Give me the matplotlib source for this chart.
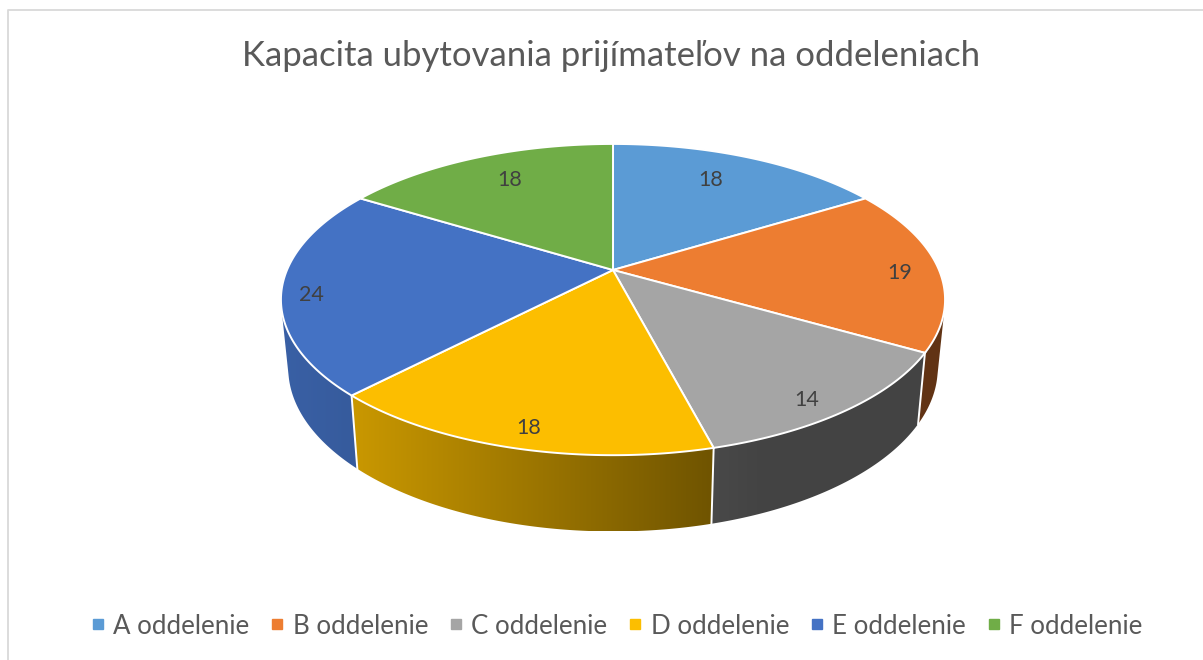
import numpy as np
import matplotlib
matplotlib.use("Agg")
import matplotlib.pyplot as plt
from matplotlib.patches import Polygon
from matplotlib.lines import Line2D

plt.rcParams['font.family'] = ['Lato', 'DejaVu Sans']

title = "Kapacita ubytovania prijímateľov na oddeleniach"
categories = ['A oddelenie', 'B oddelenie', 'C oddelenie', 'D oddelenie', 'E oddelenie', 'F oddelenie']
values = [18, 19, 14, 18, 24, 18]
colors = ['#5B9BD5', '#ED7D31', '#A5A5A5', '#FCBE00', '#4472C4', '#70AD47']
text_color = '#595959'
label_xy = [(711, 180), (900, 273), (807, 400), (529, 428), (311, 295), (510, 180)]

# perspective of the disc
cx, cy = 613, 270
r, s, k = 326, 150, 0.19


def top_xy(theta):
    u = np.sin(theta)
    v = -np.cos(theta)
    w = 1 - k * v
    return cx + r * u / w, cy + s * v / w


def bottom_xy(theta):
    x, y = top_xy(theta)
    return cx + (x - cx) * 0.978, cy + (y - cy) * 1.05 + 67


def shade(x):
    return np.interp(x, [285, 352, 714, 760], [0.84, 0.80, 0.44, 0.41])


def hull(points):
    pts = sorted(set(map(tuple, points)))
    def half(seq):
        out = []
        for p in seq:
            while len(out) > 1 and ((out[-1][0] - out[-2][0]) * (p[1] - out[-2][1])
                                    - (out[-1][1] - out[-2][1]) * (p[0] - out[-2][0])) <= 0:
                out.pop()
            out.append(p)
        return out[:-1]
    return half(pts) + half(pts[::-1])


fig = plt.figure(figsize=(12.03, 6.6), dpi=100)
ax = fig.add_axes([0, 0, 1, 1])
ax.axis('off')

# frame
ax.plot([7.5, 7.5, 1203], [660, 9.5, 9.5], color='#D9D9D9', lw=1.3)

edges = np.concatenate([[0], np.cumsum(values)]) / sum(values) * 2 * np.pi
rgb = [np.array(matplotlib.colors.to_rgb(c)) for c in colors]

# sides, only the front half shows; gradient runs left to right
for i in [1, 4, 2, 3]:
    th = np.linspace(edges[i], edges[i + 1], 200)
    xt, yt = top_xy(th)
    xb, yb = bottom_xy(th)
    outline = hull(np.column_stack([np.r_[xt, xb], np.r_[yt, yb]]))
    x0, x1 = min(p[0] for p in outline), max(p[0] for p in outline)
    y0, y1 = min(p[1] for p in outline), max(p[1] for p in outline)
    xs = np.linspace(x0, x1, 400)
    grad = np.outer(shade(xs), rgb[i]).reshape(1, -1, 3)
    im = ax.imshow(grad, extent=(x0, x1, y1, y0), aspect='auto', zorder=2, interpolation='bilinear')
    im.set_clip_path(Polygon(outline, closed=True, transform=ax.transData))

# white seams on the side
for i in [2, 3, 4]:
    x0, y0 = top_xy(edges[i])
    x1, y1 = bottom_xy(edges[i])
    ax.plot([x0, x1], [y0, y1], color='white', lw=1.4, zorder=3)

# top faces
for i in range(len(values)):
    th = np.linspace(edges[i], edges[i + 1], 200)
    xt, yt = top_xy(th)
    pts = np.column_stack([np.r_[cx, xt], np.r_[cy, yt]])
    ax.add_patch(Polygon(pts, closed=True, fc=colors[i], ec='white', lw=1.4, zorder=4))

for val, (lx, ly) in zip(values, label_xy):
    ax.text(lx, ly, str(val), ha='center', va='center', fontsize=15.5, color='#404040', zorder=5)

ax.text(611, 56, title, ha='center', va='center', fontsize=25, color=text_color)

ax.set_xlim(0, 1203)
ax.set_ylim(660, 0)

handles = [Line2D([], [], ls='none', marker='s', ms=7.2, color=c) for c in colors]
ax.legend(handles, categories, loc='center', bbox_to_anchor=(614.5 / 1203, 1 - 626 / 660), ncol=6,
          frameon=False, fontsize=18.6, labelcolor=text_color, handletextpad=0.15,
          columnspacing=0.62, handlelength=0.9, borderpad=0, borderaxespad=0)

fig.savefig('out.png', dpi=100)
